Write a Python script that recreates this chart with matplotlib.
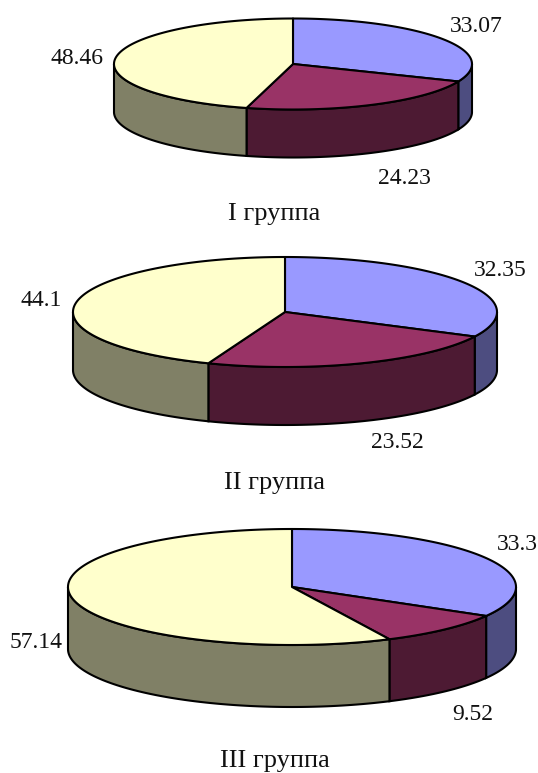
import numpy as np
import matplotlib
matplotlib.use("Agg")
import matplotlib.pyplot as plt

plt.rcParams["font.family"] = ["Liberation Serif", "DejaVu Serif"]

# Values
group_names = ["I группа", "II группа", "III группа"]
group1_values = [33.07, 24.23, 48.46]
group2_values = [32.35, 23.52, 44.1]
group3_values = [33.3, 9.52, 57.14]
group_values = [group1_values, group2_values, group3_values]

top_colors = ["#9999FF", "#993366", "#FFFFCC"]
side_colors = ["#4D4D80", "#4D1A33", "#808066"]

# cx, cy, rx, ry, depth in pixels for each pie
pie_shapes = [(293, 64, 179, 45.5, 48), (285, 312, 212, 55, 58), (292, 587, 224, 58, 62)]
title_pos = [(274, 214), (275, 483), (275, 761)]
label_pos = [
    [(476, 27), (404, 179), (77, 58)],
    [(500, 271), (397, 442), (41, 301)],
    [(517, 544), (473, 714), (36, 642)],
]

fig = plt.figure(figsize=(5.38, 7.73), dpi=100)
ax = fig.add_axes([0, 0, 1, 1])
ax.set_xlim(0, 538)
ax.set_ylim(773, 0)
ax.axis("off")


def rim(cx, cy, rx, ry, a, b):
    # angles in degrees, clockwise from 12 o'clock
    t = np.radians(np.linspace(a, b, max(int(abs(b - a)) * 2, 2)))
    return cx + rx * np.sin(t), cy - ry * np.cos(t)


def draw_pie(values, shape):
    cx, cy, rx, ry, depth = shape
    edges = np.concatenate([[0], np.cumsum(values)]) / np.sum(values) * 360

    # sides first, only the front half of the rim shows
    for i in range(len(values)):
        a = max(edges[i], 90)
        b = min(edges[i + 1], 270)
        if b > a:
            x, y = rim(cx, cy, rx, ry, a, b)
            px = np.concatenate([x, x[::-1]])
            py = np.concatenate([y, y[::-1] + depth])
            ax.fill(px, py, facecolor=side_colors[i], edgecolor="black", lw=1.5)

    # top slices
    for i in range(len(values)):
        x, y = rim(cx, cy, rx, ry, edges[i], edges[i + 1])
        px = np.concatenate([[cx], x])
        py = np.concatenate([[cy], y])
        ax.fill(px, py, facecolor=top_colors[i], edgecolor="black", lw=1.5, joinstyle="round")


for g in range(3):
    draw_pie(group_values[g], pie_shapes[g])
    for v, pos in zip(group_values[g], label_pos[g]):
        ax.text(pos[0], pos[1], f"{v:g}", ha="center", va="center", fontsize=17, color="#111111")
    ax.text(title_pos[g][0], title_pos[g][1], group_names[g], ha="center", va="center",
            fontsize=19, color="#111111")

fig.savefig("out.png", dpi=100)
